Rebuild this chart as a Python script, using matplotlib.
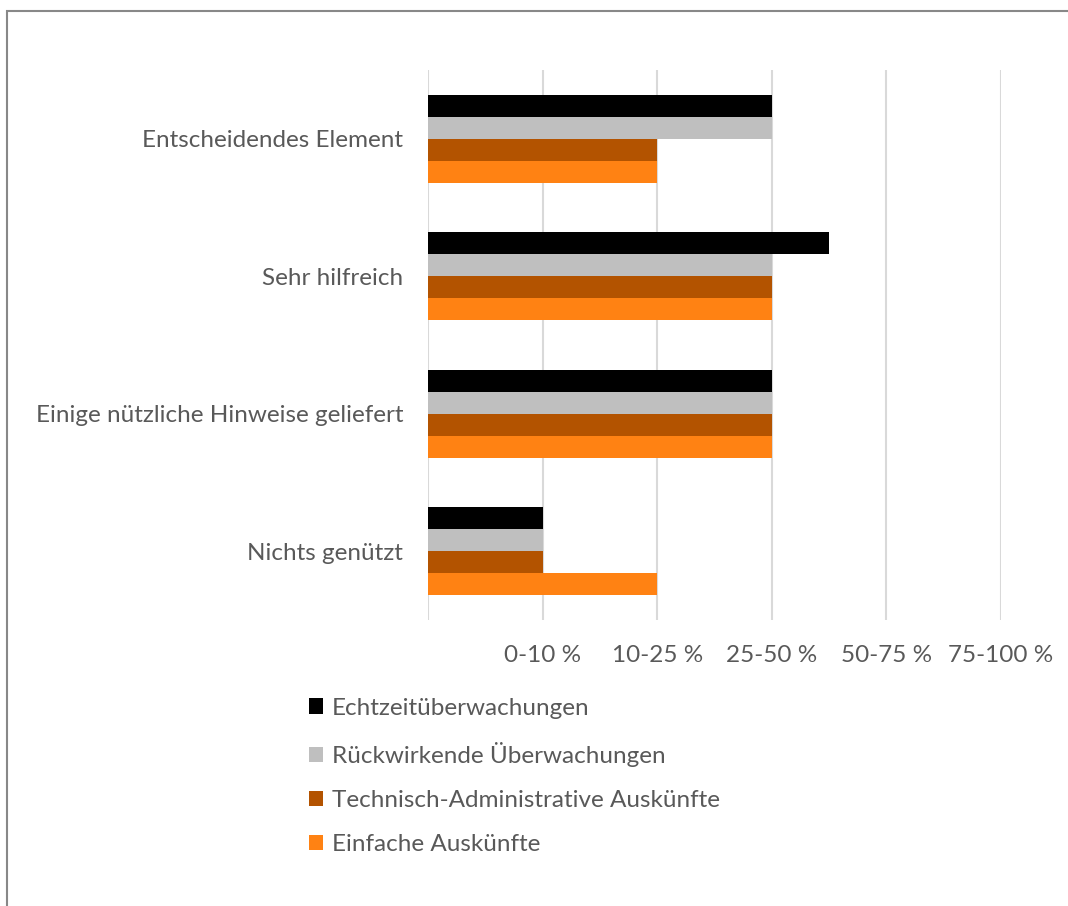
import matplotlib
matplotlib.use("Agg")
import matplotlib.pyplot as plt
from matplotlib.patches import Patch, Rectangle
import numpy as np

plt.rcParams["font.family"] = ["Lato", "DejaVu Sans"]

categories = ["Entscheidendes Element", "Sehr hilfreich",
              "Einige nützliche Hinweise geliefert", "Nichts genützt"]
tick_labels = ["0-10 %", "10-25 %", "25-50 %", "50-75 %", "75-100 %"]

series = ["Echtzeitüberwachungen", "Rückwirkende Überwachungen",
          "Technisch-Administrative Auskünfte", "Einfache Auskünfte"]
echtzeit = [3, 3.5, 3, 1]
rueckwirkend = [3, 3, 3, 1]
technisch = [2, 3, 3, 1]
einfach = [2, 3, 3, 2]
colors = ["#000000", "#BFBFBF", "#B35300", "#FF8213"]

text_color = "#595959"
fs = 17.5
W, H = 1068, 906

fig = plt.figure(figsize=(W / 100, H / 100), dpi=100)
ax = fig.add_axes([428 / W, 1 - 620 / H, (1001 - 428) / W, 550 / H])

y = np.arange(len(categories))
bar_h = 0.16
for i, (vals, c) in enumerate(zip([echtzeit, rueckwirkend, technisch, einfach], colors)):
    ax.barh(y + (i - 1.5) * bar_h, vals, height=bar_h, color=c, zorder=3)

ax.set_xlim(0, 5)
ax.set_ylim(len(categories) - 0.5, -0.5)
ax.set_xticks(np.arange(1, 6))
ax.set_xticklabels(tick_labels, fontsize=fs, color=text_color)
ax.set_yticks(y)
ax.set_yticklabels(categories, fontsize=fs, color=text_color)
ax.tick_params(length=0)
ax.tick_params(axis="x", pad=18)
ax.tick_params(axis="y", pad=18)
for x in range(6):
    ax.axvline(x, color="#D9D9D9", lw=1.5, zorder=1)
for s in ax.spines.values():
    s.set_visible(False)

handles = [Patch(facecolor=c, label=l) for c, l in zip(colors, series)]
fig.legend(handles=handles, loc="upper left", bbox_to_anchor=(299 / W, 1 - 688 / H),
           frameon=False, fontsize=fs, labelcolor=text_color,
           handlelength=0.6, handleheight=0.6, handletextpad=0.35,
           labelspacing=0.95, borderaxespad=0)

fig.patches.append(Rectangle((7 / W, -0.1), 1.2, 1 - 11 / H + 0.1,
                             transform=fig.transFigure, fill=False,
                             edgecolor="#888888", lw=1.5))

fig.savefig("out.png", dpi=100)
